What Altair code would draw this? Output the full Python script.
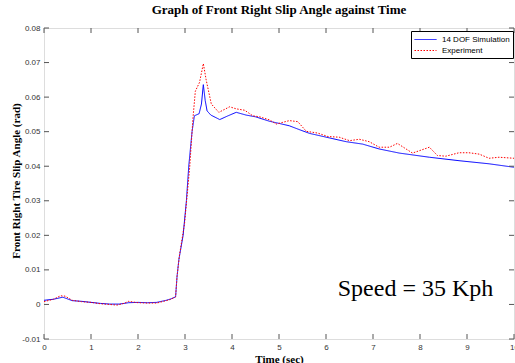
import altair as alt
import pandas as pd

# ---- data ----
sim_t = [0, 0.2, 0.4, 0.6, 0.8, 1.0, 1.2, 1.4, 1.6, 1.8, 2.0, 2.2, 2.4, 2.6, 2.7, 2.8,
         2.83, 2.87, 2.96, 3.03, 3.08, 3.15, 3.2, 3.3, 3.35, 3.39, 3.43, 3.47, 3.55, 3.74,
         3.9, 4.09, 4.3, 4.5, 4.8, 5.0, 5.22, 5.45, 5.65, 6.07, 6.43, 6.78, 7.13, 7.56,
         8.2, 8.83, 9.47, 10]
sim_v = [0.0012, 0.0015, 0.0021, 0.0011, 0.0009, 0.0006, 0.0003, 0.0001, 0.0001, 0.0005,
         0.0006, 0.0005, 0.0006, 0.0012, 0.0016, 0.0022,
         0.008, 0.013, 0.02, 0.03, 0.04, 0.05, 0.0546, 0.0552, 0.058, 0.0636, 0.059, 0.056,
         0.0548, 0.0535, 0.0545, 0.0556, 0.0548, 0.0543, 0.053, 0.0524, 0.0517, 0.0505,
         0.0495, 0.0482, 0.0471, 0.0464, 0.045, 0.0438, 0.0426, 0.0416, 0.0407, 0.0397]

exp_t = [0, 0.2, 0.35, 0.45, 0.6, 0.8, 1.0, 1.2, 1.4, 1.55, 1.7, 1.8, 1.9, 2.0, 2.2, 2.4,
         2.6, 2.7, 2.8, 2.83, 2.88, 2.99, 3.1, 3.17, 3.22, 3.31, 3.39, 3.45, 3.56, 3.72,
         3.95, 4.09, 4.27, 4.44, 4.59, 4.8, 4.94, 5.22, 5.4, 5.58, 5.82, 6.04, 6.28, 6.5,
         6.71, 6.92, 7.13, 7.35, 7.52, 7.84, 8.2, 8.37, 8.55, 8.83, 9.04, 9.26, 9.47, 9.68, 10]
exp_v = [0.0008, 0.0015, 0.0025, 0.0024, 0.0012, 0.0008, 0.0006, 0.0002, 0.0000, -0.0002,
         0.0003, 0.0009, 0.0007, 0.0005, 0.0004, 0.0004, 0.0011, 0.0015, 0.0022, 0.008,
         0.014, 0.0234, 0.0397, 0.054, 0.0617, 0.0643, 0.0697, 0.065, 0.058, 0.0556,
         0.0572, 0.0566, 0.0562, 0.0546, 0.0543, 0.0534, 0.0522, 0.0532, 0.0529, 0.0501,
         0.0496, 0.0486, 0.0484, 0.0474, 0.0478, 0.0471, 0.0455, 0.0455, 0.0466, 0.0438,
         0.0455, 0.0431, 0.0429, 0.0439, 0.0439, 0.0435, 0.0423, 0.0426, 0.0423]

series_names = ["14 DOF Simulation", "Experiment"]
x_ticks = [0, 1, 2, 3, 4, 5, 6, 7, 8, 9, 10]
y_ticks = [-0.01, 0, 0.01, 0.02, 0.03, 0.04, 0.05, 0.06, 0.07, 0.08]
annotation = ["Speed = 35 Kph"]
annot_t = [6.25]
annot_v = [0.0023]

W, H = 470, 311
TICK = 5

df = pd.concat([
    pd.DataFrame({"t": sim_t, "v": sim_v, "series": series_names[0]}),
    pd.DataFrame({"t": exp_t, "v": exp_v, "series": series_names[1]}),
])
xt = pd.DataFrame({"t": x_ticks})
yt = pd.DataFrame({"v": y_ticks})
ann = pd.DataFrame({"t": annot_t, "v": annot_v, "label": annotation})

xs = alt.Scale(domain=[0, 10], nice=False, zero=False)
ys = alt.Scale(domain=[-0.01, 0.08], nice=False, zero=False)

xa = alt.Axis(
    values=x_ticks, ticks=False, domain=False, grid=False, title="Time (sec)",
    labelOverlap=False, labelFlush=False,
    labelFont="Liberation Sans", labelFontSize=8, labelColor="#333", labelPadding=4,
    titleFont="Liberation Serif", titleFontWeight="bold", titleFontSize=11,
    titleX=W / 2, titleY=23, titleBaseline="alphabetic", titleAlign="center")
ya = alt.Axis(
    values=y_ticks, ticks=False, domain=False, grid=False,
    title="Front Right Tire Slip Angle (rad)",
    labelOverlap=False, labelFlush=False,
    labelExpr="replace(format(datum.value, '~g'), '\u2212', '-')",
    labelFont="Liberation Sans", labelFontSize=8, labelColor="#333", labelPadding=4,
    titleFont="Liberation Serif", titleFontWeight="bold", titleFontSize=11,
    titleX=-28, titleY=H / 2 - 3, titleAngle=270, titleBaseline="middle",
    titleAlign="center")

legend = alt.Legend(
    title=None, orient="none", legendX=367, legendY=3,
    strokeColor="black", fillColor="white", padding=3,
    labelFont="Liberation Sans", labelFontSize=8, labelColor="black",
    symbolType="M-1,0L3.4,0", symbolSize=100, symbolStrokeWidth=1,
    rowPadding=1, labelOffset=17, cornerRadius=0,
)

lines = alt.Chart(df).mark_line(strokeWidth=1, clip=True).encode(
    x=alt.X("t:Q", scale=xs, axis=xa),
    y=alt.Y("v:Q", scale=ys, axis=ya),
    color=alt.Color("series:N", scale=alt.Scale(domain=series_names, range=["#0000ff", "#ff0000"]),
                    legend=legend),
    strokeDash=alt.StrokeDash("series:N", scale=alt.Scale(domain=series_names, range=[[1, 0], [1.5, 1.5]]),
                              legend=legend),
    detail="series:N",
)

tick_color = "#555"
bottom_ticks = alt.Chart(xt).mark_rule(color=tick_color).encode(
    x=alt.X("t:Q", scale=xs, axis=xa), y=alt.value(H), y2=alt.value(H - TICK))
top_ticks = alt.Chart(xt).mark_rule(color=tick_color).encode(
    x=alt.X("t:Q", scale=xs, axis=xa), y=alt.value(0), y2=alt.value(TICK))
left_ticks = alt.Chart(yt).mark_rule(color=tick_color).encode(
    y=alt.Y("v:Q", scale=ys, axis=ya), x=alt.value(0), x2=alt.value(TICK))
right_ticks = alt.Chart(yt).mark_rule(color=tick_color).encode(
    y=alt.Y("v:Q", scale=ys, axis=ya), x=alt.value(W - TICK), x2=alt.value(W))

text = alt.Chart(ann).mark_text(
    font="Liberation Serif", fontSize=24, align="left", baseline="alphabetic", color="black"
).encode(x=alt.X("t:Q", scale=xs, axis=xa), y=alt.Y("v:Q", scale=ys, axis=ya), text="label:N")

chart = alt.layer(lines, bottom_ticks, top_ticks, left_ticks, right_ticks, text).properties(
    width=W, height=H,
    title=alt.TitleParams("Graph of Front Right Slip Angle against Time",
                          font="Liberation Serif", fontSize=13, fontWeight="bold",
                          anchor="middle", offset=7, color="black"),
    autosize=alt.AutoSizeParams(type="none"),
    padding={"left": 44, "top": 28, "right": 1, "bottom": 24},
).configure_view(stroke="#555", strokeWidth=1).configure(background="white")

chart.save("out.html", embed_options={"renderer": "svg", "actions": False})
